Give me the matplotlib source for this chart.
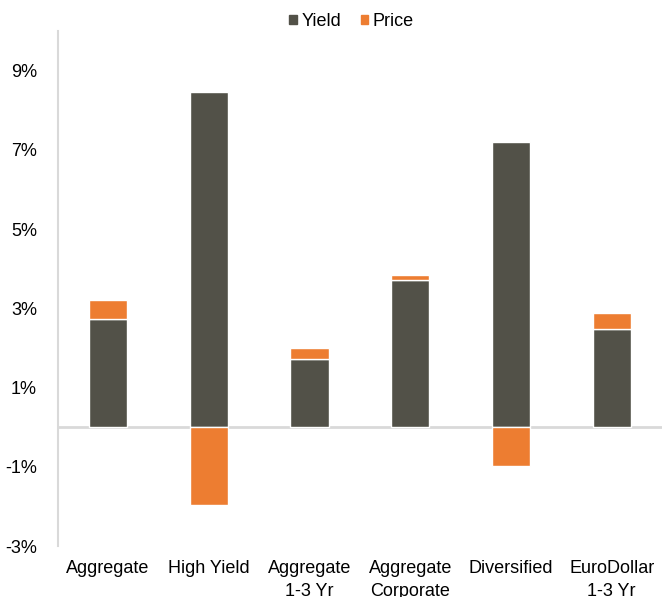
import matplotlib.pyplot as plt
import numpy as np
from matplotlib.patches import Patch

plt.rcParams['font.family'] = ['Liberation Sans', 'DejaVu Sans']
plt.rcParams['font.size'] = 13

# return components per index, in percent
categories = ['Aggregate', 'High Yield', 'Aggregate\n1-3 Yr', 'Aggregate\nCorporate',
              'Diversified', 'EuroDollar\n1-3 Yr']
yield_vals = [2.72, 8.46, 1.72, 3.72, 7.20, 2.49]
price_vals = [0.50, -1.96, 0.27, 0.11, -0.98, 0.39]

yield_color = '#525148'
price_color = '#ED7D31'
grid_color = '#d9d9d9'


def main():
    fig = plt.figure(figsize=(6.62, 5.97), dpi=100)
    ax = fig.add_axes([0.0872, 0.0854, 0.9128, 0.8626])

    x = np.arange(len(categories))
    yv = np.array(yield_vals)
    pv = np.array(price_vals)
    price_bottom = np.where(pv > 0, yv, 0)

    ax.bar(x, yv, width=0.38, color=yield_color, edgecolor='white', linewidth=1, zorder=2)
    ax.bar(x, pv, width=0.38, bottom=price_bottom, color=price_color,
           edgecolor='white', linewidth=1, zorder=2)

    ax.axhline(0, color=grid_color, linewidth=2, zorder=1)

    ax.set_xlim(-0.5, 5.5)
    ax.set_ylim(-3, 10)
    ax.set_yticks(np.arange(-3, 10, 2))
    ax.set_yticklabels([f'{v}%' for v in range(-3, 10, 2)])
    ax.set_xticks(x)
    ax.set_xticklabels(categories, linespacing=1.45)
    ax.tick_params(axis='both', length=0, colors='black')
    ax.tick_params(axis='y', pad=15)
    ax.tick_params(axis='x', pad=10)

    for side in ['top', 'right', 'bottom']:
        ax.spines[side].set_visible(False)
    ax.spines['left'].set_color(grid_color)
    ax.spines['left'].set_linewidth(1.5)

    handles = [Patch(color=yield_color, label='Yield'),
               Patch(color=price_color, label='Price')]
    fig.legend(handles=handles, loc='upper center', bbox_to_anchor=(0.531, 1.005),
               ncol=2, frameon=False, handlelength=0.4, handleheight=0.4,
               handletextpad=0.25, columnspacing=1.1)

    fig.savefig('out.png', dpi=100)


if __name__ == "__main__":
    main()
